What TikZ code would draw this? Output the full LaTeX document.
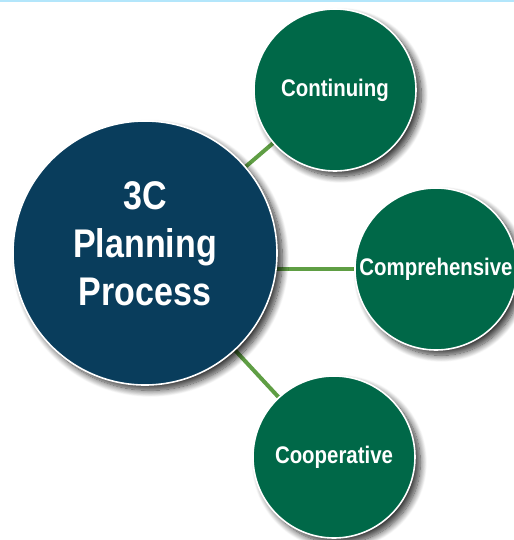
\documentclass[tikz,border=0pt]{standalone}
\usepackage{fontspec}
\setmainfont{Liberation Sans}
\newfontfamily\ballfont[FakeStretch=0.85]{Liberation Sans}
\usetikzlibrary{shadows.blur,backgrounds}

\definecolor{planblue}{RGB}{9,61,92}
\definecolor{cgreen}{RGB}{0,104,72}
\definecolor{linkgreen}{RGB}{95,158,68}
\definecolor{topline}{RGB}{179,230,251}

\tikzset{
  ballshadow/.style={blur shadow={shadow xshift=4pt, shadow yshift=-4pt, shadow blur radius=5pt, shadow blur steps=12, shadow opacity=80}},
  bigball/.style={circle, fill=planblue, draw=white, line width=1.2pt, text=white,
    minimum size=198pt, inner sep=0pt, ballshadow},
  cball/.style={circle, fill=cgreen, draw=white, line width=1.2pt, text=white,
    minimum size=121.5pt, inner sep=0pt, ballshadow},
  ctext/.style={text=white, font=\ballfont\bfseries\fontsize{18}{20}\selectfont},
  link/.style={draw=linkgreen, line width=3pt}
}

\begin{document}
\begin{tikzpicture}[x=0.75pt,y=0.75pt,yscale=-1,xscale=1]
\useasboundingbox (0,0) rectangle (514,540);

%top line
\fill[topline] (0,0) rectangle (514,2);

%circles
\node [bigball] (main) at (145,253) {};
\node [cball] (cont) at (335,90) {};
\node [cball] (comp) at (436,269) {};
\node [cball] (coop) at (334,457) {};

% Text Node
\node [text=white, align=center, font=\ballfont\bfseries\fontsize{30}{36}\selectfont] (maintxt) at (145,244) {3C\\Planning\\Process};
% Text Node
\node [ctext] (conttxt) at (cont) {Continuing};
% Text Node
\node [ctext] (comptxt) at (comp) {Comprehensive};
% Text Node
\node [ctext] (cooptxt) at (coop) {Cooperative};

%links
\begin{scope}[on background layer]
\draw [link] (main) -- (cont);
\draw [link] (comp) -- (comp -| main.center);
\draw [link] (main) -- (coop);
\end{scope}

\end{tikzpicture}
\end{document}
